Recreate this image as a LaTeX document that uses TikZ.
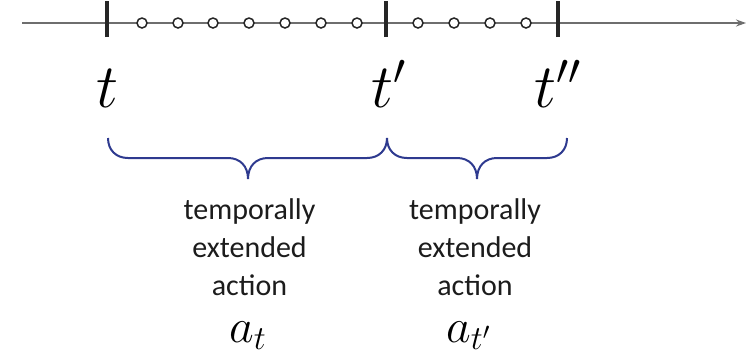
\RequirePackage{fix-cm}
\documentclass[tikz,border=0pt]{standalone}
\usepackage{fontspec}
\setsansfont{Carlito}
\usetikzlibrary{arrows.meta}
\definecolor{axisgray}{HTML}{6E6E6E}
\definecolor{tickdark}{HTML}{262626}
\definecolor{bracecol}{HTML}{2E3A8F}
\definecolor{textdark}{HTML}{1C1C1C}
\begin{document}
\begin{tikzpicture}[x=1pt,y=-1pt,
  axisline/.style={draw=axisgray,line width=1.4pt,-{Stealth[length=10pt,width=7pt]}},
  tickmark/.style={draw=tickdark,line width=3.2pt},
  stepdot/.style={circle,draw=tickdark,fill=white,line width=1.5pt,minimum size=10pt,inner sep=0pt},
  timelabel/.style={inner sep=0pt,font=\fontsize{62}{62}\selectfont},
  bracepath/.style={draw=bracecol,line width=2pt},
  desc/.style={inner sep=0pt,align=center,text=textdark,font=\sffamily\fontsize{30}{38}\selectfont},
  actlabel/.style={inner sep=0pt,font=\fontsize{48}{48}\selectfont}]
\useasboundingbox (0,0) rectangle (751,357);
\coordinate (start) at (22,23);
\coordinate (end) at (746,23);
\draw[axisline] (start) -- (end);
% ticks
\coordinate (t0) at (107,23);
\coordinate (t1) at (386,23);
\coordinate (t2) at (558,23);
\foreach \n in {t0,t1,t2}{
  \draw[tickmark] ([yshift=-14pt]\n) -- ([yshift=22pt]\n);
}
% intermediate steps
\foreach \x [count=\i] in {142,178,213,249,285,321,357}{
  \node[stepdot] (a\i) at (\x,23) {};
}
\foreach \x [count=\i] in {418,454,490,526}{
  \node[stepdot] (b\i) at (\x,23) {};
}
% time labels
\node[timelabel,anchor=base] (lt0) at (107,107) {$t$};
\node[timelabel,anchor=base west] (lt1) at (371,107) {$t'$};
\node[timelabel,anchor=base west] (lt2) at (534,107) {$t''$};
% braces
\coordinate (b0s) at (108,138);
\coordinate (b0e) at (387,138);
\coordinate (b1e) at (567,138);
\draw[bracepath] (b0s) .. controls (108,150) and (116,158) .. (128,158) -- (228,158)
  .. controls (240,158) and (248,166) .. (248,179)
  .. controls (248,166) and (256,158) .. (268,158) -- (367,158)
  .. controls (379,158) and (387,150) .. (b0e);
\draw[bracepath] (b0e) .. controls (387,150) and (395,158) .. (407,158) -- (457,158)
  .. controls (469,158) and (477,166) .. (477,179)
  .. controls (477,166) and (485,158) .. (497,158) -- (547,158)
  .. controls (559,158) and (567,150) .. (b1e);
% descriptions
\node[desc,anchor=north] (d0) at (249.5,198) {temporally\\extended\\action};
\node[desc,anchor=north] (d1) at (475,198) {temporally\\extended\\action};
\node[actlabel,anchor=base west] (act0) at (229,342) {$a_t$};
\node[actlabel,anchor=base west] (act1) at (446,342) {$a_{t'}$};
\end{tikzpicture}
\end{document}
